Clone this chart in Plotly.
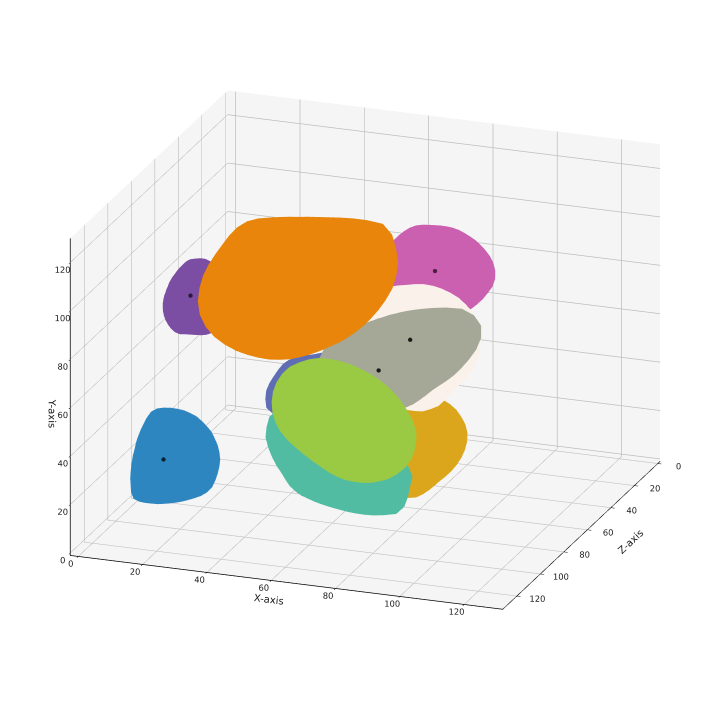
import numpy as np
import plotly.graph_objects as go

# axis settings
tick_values = [0, 20, 40, 60, 80, 100, 120]
x_range = [-2.5, 132]
y_range = [-1, 130]
z_range = [-2, 132]
elevation_deg = 20
azimuth_deg = 20
eye_distance = 2.5
box_ratio = [1, 0.733, 1]
zoom = 1.293
base_pixel_per_unit = 348
box_shift_px = [9, 6]

# blobs: centre (X, Y, Z) and outline radius every 7.5 degrees
orange_center = [55.6, 102.8, 96.6]
orange_radii = [29.0,29.7,29.9,29.4,28.4,27.1,25.8,24.5,23.4,22.5,21.6,20.9,20.2,19.7,19.4,19.3,19.4,19.8,20.3,21.0,21.9,22.9,24.2,25.7,27.4,28.8,30.1,30.8,31.5,31.0,28.2,25.8,23.9,22.5,21.6,21.1,20.9,21.1,21.6,22.4,23.6,24.7,25.3,25.5,25.7,26.3,27.2,28.2]
green_center = [71.3, 52.1, 100.4]
green_radii = [20.3,19.2,18.0,16.9,16.0,15.4,15.0,14.9,14.9,15.2,15.7,16.3,17.0,17.7,18.5,19.4,20.2,21.1,21.7,22.2,22.4,22.1,21.7,21.1,20.0,18.9,18.0,17.3,16.7,16.3,16.0,15.8,15.8,15.9,16.2,16.7,17.3,18.1,19.0,20.1,21.0,21.8,22.7,23.0,23.0,22.7,22.1,21.3]
teal_center = [69.6, 36.9, 100.1]
teal_radii = [19.7,18.6,17.6,17.1,16.8,16.3,15.8,15.2,14.9,14.7,14.7,14.9,15.3,16.0,16.9,18.1,19.6,21.3,23.4,23.8,23.1,22.3,22.1,20.3,14.5,10.4,8.2,6.9,6.1,5.5,5.2,4.9,4.8,4.7,4.8,4.9,5.1,5.4,5.9,6.7,7.8,9.5,12.7,22.8,23.7,23.1,22.4,21.0]
gray_center = [78.5, 74.0, 80.8]
gray_radii = [19.7,21.2,21.3,20.9,20.4,19.9,19.3,18.7,18.3,18.1,18.1,18.2,18.1,17.8,17.4,17.2,16.9,16.8,16.9,17.5,18.5,19.8,21.2,22.9,24.9,26.6,27.3,26.3,24.0,20.3,17.3,15.1,13.5,12.3,11.4,10.7,10.3,10.0,9.8,9.9,10.0,10.4,10.8,11.5,12.3,13.4,15.0,17.2]
cream_center = [81.2, 71.8, 75.1]
cream_radii = [24.0,24.0,24.0,23.5,23.0,21.6,20.3,19.3,18.3,17.8,17.4,17.4,17.5,18.0,18.6,18.7,18.9,18.5,18.1,18.5,18.9,19.6,20.4,21.0,21.5,21.8,22.0,22.1,22.3,21.9,21.6,21.1,20.7,20.3,19.9,19.4,19.0,19.0,19.1,19.8,20.6,21.1,21.7,22.3,22.9,23.4,24.0,24.0]
gold_center = [81.4, 36.1, 80.1]
gold_radii = [12.0,11.8,11.6,11.4,11.4,11.4,11.6,11.9,12.4,13.0,13.8,14.8,15.7,16.5,16.8,16.6,16.3,16.1,16.1,16.5,17.0,17.6,18.2,18.8,19.3,19.6,19.5,19.1,18.7,18.1,17.4,16.6,16.1,15.7,15.4,15.1,14.9,14.6,13.8,13.0,12.3,11.9,11.6,11.5,11.5,11.7,11.8,12.0]
peri_center = [58.5, 52.6, 78.3]
peri_radii = [18.5,18.9,19.1,17.8,16.1,14.7,13.7,12.9,12.3,11.8,11.3,10.9,10.6,10.4,10.2,10.2,10.2,10.3,10.5,10.7,10.9,11.0,11.1,11.4,11.7,12.1,12.5,13.1,13.5,13.6,13.4,13.3,13.1,12.9,12.7,12.2,11.7,11.4,11.4,11.6,12.1,12.8,13.8,14.9,15.7,16.2,16.8,17.7]
pink_center = [81.8, 94.2, 52.5]
pink_radii = [16.1,16.5,16.8,17.0,16.8,16.5,16.2,15.9,15.6,15.4,15.3,15.2,15.1,15.0,14.9,14.9,14.9,15.0,15.4,15.8,16.3,16.8,17.5,17.8,17.7,17.3,16.7,16.0,15.4,14.9,14.4,14.1,13.9,13.7,13.5,13.4,13.4,13.6,14.0,14.4,14.6,14.7,14.8,15.0,15.2,15.5,15.7,15.9]
purple_center = [14.0, 83.1, 75.0]
purple_radii = [7.6,7.9,8.3,8.7,9.2,9.7,10.2,10.7,11.2,11.6,11.7,11.4,11.4,11.6,12.0,12.4,12.6,12.5,12.3,12.0,11.8,11.8,11.8,11.8,11.8,11.6,11.4,11.2,11.2,11.2,11.4,11.5,11.6,11.6,11.3,10.9,10.6,10.0,9.2,8.6,8.1,7.7,7.5,7.3,7.2,7.1,7.2,7.3]
blue_center = [10.8, 21.2, 88.8]
blue_radii = [9.2,9.5,9.9,10.5,11.3,12.2,13.5,14.5,14.3,13.8,13.4,13.2,13.0,13.0,13.1,13.4,13.8,14.4,15.2,15.9,16.3,16.3,16.3,16.4,16.5,16.4,16.3,16.1,16.1,15.9,15.8,15.8,15.6,15.5,15.3,15.2,15.1,15.0,14.4,13.1,11.9,11.0,10.3,9.8,9.4,9.1,9.0,9.1]

blobs = [
    (orange_center, orange_radii, "#E8850A"),
    (green_center, green_radii, "#9ACA43"),
    (teal_center, teal_radii, "#52BCA3"),
    (gray_center, gray_radii, "#A5A897"),
    (cream_center, cream_radii, "#FAF2EA"),
    (gold_center, gold_radii, "#DBA61B"),
    (peri_center, peri_radii, "#5F6DB5"),
    (pink_center, pink_radii, "#CB5FB0"),
    (purple_center, purple_radii, "#7B4EA3"),
    (blue_center, blue_radii, "#2E86C1"),
]

# centre dots
dot_x = [14.9, 11.6, 82.7, 84.3, 76.7]
dot_y = [84.3, 22.4, 95.4, 78.9, 67.7]
dot_z = [77.3, 91.2, 54.8, 80.3, 86.3]
dot_colors = ["#2B1840", "#0C2333", "#4D1E40", "#1A1A17", "#1A1A17"]

el, az = np.radians(elevation_deg), np.radians(azimuth_deg)
toward = np.array([np.cos(el) * np.sin(az), np.sin(el), np.cos(el) * np.cos(az)])
right = np.array([np.cos(az), 0, -np.sin(az)])
up = np.cross(toward, right)

ranges = np.array([x_range, y_range, z_range], float)
mid = ranges.mean(axis=1)
span = ranges[:, 1] - ranges[:, 0]
ratio = np.array(box_ratio)
THICK = 0.01


def blob_mesh(center, radii, color):
    """Thin lens-shaped solid facing the viewer with the given outline."""
    c = (np.array(center) - mid) / span * ratio
    rad = np.array(radii) / span[0]
    n = len(rad)
    t = -np.pi + 2 * np.pi * np.arange(n) / n
    ring = rad[:, None] * (np.cos(t)[:, None] * right + np.sin(t)[:, None] * up)
    verts = [c + ring]
    for side in (1, -1):
        verts.append(c + 0.5 * ring + side * THICK * toward)
        verts.append((c + side * THICK * 1.2 * toward)[None, :])
    v = np.vstack(verts)
    i, j, k = [], [], []
    for mid_start, tip in ((n, 2 * n), (2 * n + 1, 3 * n + 1)):
        for a in range(n):
            b = (a + 1) % n
            i += [a, b, mid_start + a]
            j += [b, mid_start + b, mid_start + b]
            k += [mid_start + a, mid_start + a, tip]
    d = mid + v / ratio * span
    return go.Mesh3d(x=d[:, 0], y=d[:, 1], z=d[:, 2], i=i, j=j, k=k, color=color,
                     flatshading=True, hoverinfo="skip",
                     lighting=dict(ambient=1, diffuse=0, specular=0, roughness=1, fresnel=0))


def axis(title, rng):
    return dict(
        title=dict(text=title, font=dict(size=10, family="DejaVu Sans", color="#222222")),
        range=rng, tickvals=tick_values, tickmode="array", tickangle=0,
        tickfont=dict(size=10, family="DejaVu Sans", color="#222222"),
        showbackground=True, backgroundcolor="#F5F5F5", gridcolor="#BEBEBE", gridwidth=1.5,
        ticks="outside", tickcolor="black", ticklen=4, tickwidth=1.2,
        showline=True, linecolor="black", linewidth=1.5,
        zeroline=False, showspikes=False,
    )


fig = go.Figure([blob_mesh(*b) for b in blobs])
fig.add_trace(go.Scatter3d(x=dot_x, y=dot_y, z=dot_z, mode="markers",
                           marker=dict(size=2.5, color=dot_colors, line=dict(width=0)),
                           hoverinfo="skip"))
center = (-box_shift_px[0] * right - box_shift_px[1] * up) / base_pixel_per_unit
eye = center + eye_distance * toward
fig.update_layout(
    width=712, height=712, margin=dict(l=0, r=0, t=0, b=0), paper_bgcolor="white",
    showlegend=False,
    scene=dict(
        xaxis=axis("X-axis", x_range), yaxis=axis("Y-axis", y_range), zaxis=axis("Z-axis", z_range),
        aspectmode="manual",
        aspectratio=dict(x=ratio[0] * zoom, y=ratio[1] * zoom, z=ratio[2] * zoom),
        camera=dict(eye=dict(x=eye[0], y=eye[1], z=eye[2]),
                    center=dict(x=center[0], y=center[1], z=center[2]),
                    up=dict(x=0, y=1, z=0), projection=dict(type="orthographic")),
    ),
)
fig.write_html("out.html", config={"displayModeBar": False},
               post_script="document.body.style.margin='0';document.body.style.overflow='hidden';")
